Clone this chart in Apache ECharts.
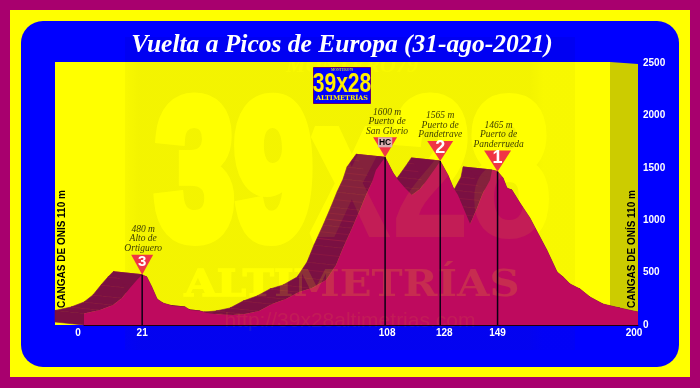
<!DOCTYPE html>
<html><head><meta charset="utf-8">
<style>html,body{margin:0;padding:0;background:#A8006E}#c{width:700px;height:388px}</style>
<script src="https://cdn.jsdelivr.net/npm/echarts@6/dist/echarts.min.js"></script>
</head><body><div id="c"></div>
<script>
const titleText = 'Vuelta a Picos de Europa (31-ago-2021)';
const startText = 'CANGAS DE ONIS 110 m';
const finishText = 'CANGAS DE ONÍS 110 m';
const km = [0,5.8,10.5,13.7,16.6,19.1,21,22.7,24.5,26.4,28.5,32.1,36.5,38.3,41.9,44.4,47.3,53.8,58.1,63.2,67.9,72.9,77.6,82.3,87.4,91,93.5,96.8,99.6,101.8,104,105.4,107.2,108.7,111.6,113.4,115.9,118.4,121.3,123.8,127.4,128.6,131.4,133.2,135,139.4,141.9,144,146.6,147.3,149.3,151.3,152.7,154.5,157.4,161,164.6,167.1,170.8,173,175.5,179.1,182.7,187.4,193.5,200];
const elevation = [110,143,191,258,353,429,480,458,363,248,210,181,172,143,134,114,105,95,105,134,200,248,315,353,429,572,735,925,1097,1240,1364,1479,1545,1600,1450,1383,1307,1240,1297,1383,1517,1565,1431,1316,1240,964,1116,1259,1383,1479,1465,1402,1307,1288,1164,1021,840,716,506,458,391,343,267,200,162,124];
const passKm = [21,108.7,128.6,149.3];
const passElevation = [480,1600,1565,1465];
const passCategory = ['3','HC','2','1'];
const passNames = ['480 m\nAlto de\nOrtiguero','1600 m\nPuerto de\nSan Glorio','1565 m\nPuerto de\nPandetrave','1465 m\nPuerto de\nPanderrueda'];
const xTicks = [0,21,108.7,128.6,149.3,200];
const yTicks = [0,500,1000,1500,2000,2500];
const triangleSizes = [[22,20],[24,20],[26,20],[27,21]];
const nameShift = [1,2,0,1];

const SERIF = '"Liberation Serif","DejaVu Serif",serif';
const SANS = '"Liberation Sans",Arial,sans-serif';
const DARK = '#7A1042', STRIPE = '#A82340', FRONT = '#BE0A5E', OFF = [-29,-3];

function rect(x,y,w,h,fill,z,r,stroke){return {type:'rect',silent:true,z:z,shape:{x,y,width:w,height:h,r:r||0},style:{fill,stroke:stroke||null,lineWidth:stroke?1:0}};}
function txt(text,x,y,font,fill,z,extra,stroke,sw){return Object.assign({type:'text',silent:true,z:z,x:x,y:y,style:{text,x:0,y:0,font,fill,textAlign:'center',textVerticalAlign:'middle',stroke:stroke||null,lineWidth:sw||0}},extra||{});}

const gfx = [
 rect(10,10,680,367,'#FFFF00',0.1),
 rect(21,21,658,346,'#0000FF',0.2,22),
 rect(55,62,555,263,'#FFFF00',0.3),
 {type:'polygon',silent:true,z:0.3,shape:{points:[[610,62],[638,64],[638,325],[610,325]]},style:{fill:'#CCCC00'}},
 rect(125,37,450,313,{type:'linear',x:0,y:0,x2:1,y2:0,colorStops:[{offset:0,color:'rgba(60,60,0,.035)'},{offset:.03,color:'rgba(60,60,0,.06)'},{offset:.9,color:'rgba(60,60,0,.06)'},{offset:.93,color:'rgba(60,60,0,.035)'},{offset:1,color:'rgba(60,60,0,.035)'}]},0.4),
 txt('39x28',352,183,'bold 196px '+SANS,'#FFFF00',0.5,{scaleX:.72,scaleY:1},'#FFFF00',14),
 txt('ALTIMETRÍAS',352,286,'bold 38px "DejaVu Serif",serif','#FFFF00',0.5,{scaleX:1.1},'#FFFF00',1.5),
 txt('MONTERO79',352,66,'italic bold 22px '+SERIF,'#F8F800',0.5),
 rect(125,37,450,25,'#0000F2',0.6),
 txt('39x28',352,183,'bold 196px '+SANS,'rgba(255,255,0,.08)',4,{scaleX:.72,scaleY:1}),
 txt('ALTIMETRÍAS',352,286,'bold 38px "DejaVu Serif",serif','rgba(255,255,0,.14)',4,{scaleX:1.1}),
 txt('http://39x28altimetrias.com',350,321,'21px '+SANS,'rgba(255,255,0,.07)',4),
 rect(313.5,67.5,57,36,'#0000FF',5,0,'#66006E'),
 txt('MONTERO79',342,70.5,'bold 3.5px '+SERIF,'#CCCC33',5.1),
 txt('39x28',342,85,'bold 27px '+SANS,'#FFEE00',5.1,{scaleX:.78,scaleY:1}),
 txt('ALTIMETRÍAS',342,98.5,'bold 6.5px "DejaVu Serif",serif','#FFEE00',5.1),
 txt(titleText,342,45,'italic bold 25.5px '+SERIF,'#FFFFFF',5.1),
 txt(startText,62,249,'bold 10px '+SANS,'#000',5.1,{rotation:Math.PI/2}),
 txt(finishText,632,249,'bold 10px '+SANS,'#000',5.1,{rotation:Math.PI/2})
];

const points = km.map((k,i)=>[k,elevation[i]]);
function ribbon(params,api){
  const i = params.dataIndex, p = api.coord([km[i],elevation[i]]);
  const q = i>0 ? api.coord([km[i-1],elevation[i-1]]) : api.coord([km[0],0]);
  const a = (pt)=>[pt[0]+OFF[0],pt[1]+OFF[1]];
  const kids = [{type:'polygon',shape:{points:[p,q,a(q),a(p)]},style:{fill:DARK,stroke:DARK,lineWidth:.6}}];
  if(i>0 && p[1]<q[1]-1){
    const n = Math.max(1,Math.round((q[1]-p[1])/7));
    for(let s=0;s<n;s++){
      const t=s/n, m=[p[0]+(q[0]-p[0])*t,p[1]+(q[1]-p[1])*t];
      kids.push({type:'line',shape:{x1:m[0],y1:m[1],x2:m[0]+OFF[0],y2:m[1]+OFF[1]},style:{stroke:STRIPE,lineWidth:.7,opacity:s%2?.45:.8}});
    }
  }
  return {type:'group',children:kids};
}
function stem(params,api){
  const i=params.dataIndex, a=api.coord([passKm[i],0]), b=api.coord([passKm[i],passElevation[i]]);
  return {type:'line',shape:{x1:a[0],y1:a[1],x2:b[0],y2:b[1]},style:{stroke:'#0A0014',lineWidth:1.5}};
}
const tickRich = {color:'#fff',fontFamily:SANS,fontWeight:'bold',fontSize:10};
const chart = echarts.init(document.getElementById('c'),null,{renderer:'canvas'});
chart.setOption({
  animation:false,
  backgroundColor:'#A8006E',
  grid:{left:84,right:62,top:63,bottom:63},
  graphic:{elements:gfx},
  xAxis:{type:'value',z:5,min:0,max:200,splitLine:{show:false},
    axisLine:{show:true,onZero:false,lineStyle:{color:'#200010',width:1}},
    axisTick:{show:false},
    axisLabel:{customValues:xTicks,color:'#fff',fontFamily:SANS,fontWeight:'bold',fontSize:10,margin:3,hideOverlap:false,
      formatter:v=>{const n=Math.floor(v);return n===0?'{l|0}':n===200?'{r|200}':n===128?'{m|128}':n===108?'{s|108}':String(n);},
      rich:{l:Object.assign({padding:[0,12,0,0]},tickRich),r:Object.assign({padding:[0,8,0,0]},tickRich),m:Object.assign({padding:[0,0,0,8]},tickRich),s:Object.assign({padding:[0,0,0,4]},tickRich)}}},
  yAxis:{type:'value',z:5,min:yTicks[0],max:yTicks[yTicks.length-1],interval:yTicks[1],position:'right',splitLine:{show:false},
    axisLine:{show:false},axisTick:{show:false},
    axisLabel:{color:'#fff',fontFamily:SANS,fontWeight:'bold',fontSize:10,margin:5,formatter:v=>String(v)}},
  series:[
    {type:'custom',z:2,clip:false,data:points,renderItem:ribbon,silent:true},
    {type:'line',z:3,data:points,showSymbol:false,silent:true,lineStyle:{width:0},areaStyle:{color:FRONT,opacity:1}},
    {type:'custom',z:4.5,clip:false,data:passKm.map((k,i)=>[k,passElevation[i]]),renderItem:stem,silent:true},
    {type:'scatter',z:6,clip:false,silent:true,symbol:'path://M0 0H2L1 2Z',
      data:passKm.map((k,i)=>({value:[k,passElevation[i]],symbolSize:triangleSizes[i],symbolOffset:[0,'-50%'],
        label:passCategory[i]==='HC'
          ?{show:true,position:'inside',offset:[0,-5],formatter:'{h|HC}',rich:{h:{backgroundColor:'#D8B0B0',color:'#000',fontFamily:SANS,fontWeight:'bold',fontSize:8.5,padding:[1,1,0,1]}}}
          :{show:true,position:'inside',offset:[0,-3],formatter:passCategory[i],color:'#fff',fontFamily:SANS,fontWeight:'bold',fontSize:passCategory[i]==='3'?15:18}})),
      itemStyle:{color:'#F03545',opacity:1}},
    {type:'scatter',z:6,clip:false,silent:true,symbol:'circle',
      data:passKm.map((k,i)=>({value:[k,passElevation[i]],symbolSize:1,itemStyle:{color:'rgba(0,0,0,0)'},
        label:{show:true,position:'top',distance:triangleSizes[i][1]+1,offset:[nameShift[i],0],formatter:passNames[i],color:'#0a0a00',fontFamily:SERIF,fontStyle:'italic',fontSize:9.5,lineHeight:9.5,align:'center'}}))}
  ]
});
</script></body></html>
